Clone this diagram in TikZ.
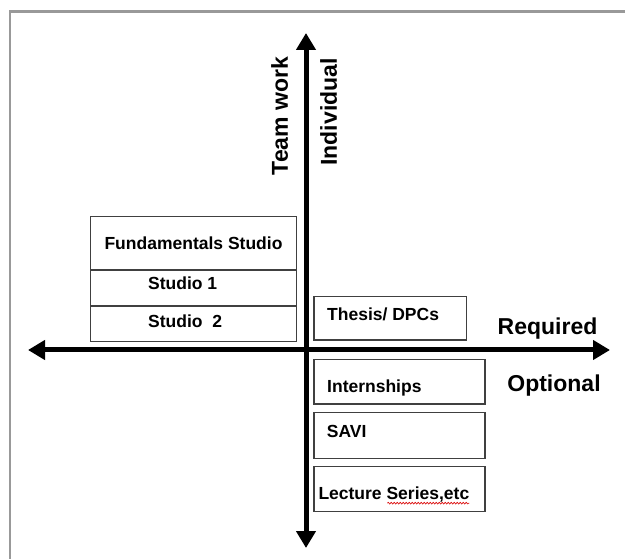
\documentclass[tikz,border=0pt]{standalone}
\usepackage{fontspec}
\setmainfont{Liberation Sans}
\usepackage{tikz}
\usetikzlibrary{arrows.meta,positioning,decorations.pathmorphing}

\begin{document}
\begin{tikzpicture}[
  x=1pt, y=-1pt,
  box/.style={draw=black!75, line width=1.2pt, inner sep=0pt},
  lbl/.style={font=\fontsize{17.5}{20}\selectfont\bfseries, inner sep=0pt,
              text height=12.5pt, text depth=0pt},
  axlbl/.style={font=\fontsize{23}{27}\selectfont\bfseries, inner sep=0pt,
                text height=16.5pt, text depth=0pt},
  axis/.style={line width=5pt, -{Triangle[length=17pt,width=19pt]}},
  squiggle/.style={red!85!black, line width=0.6pt,
                   decorate, decoration={snake, amplitude=0.9pt, segment length=3pt}}
]
\useasboundingbox (0,0) rectangle (625,559);
% frame of the slide
\draw[black!40, line width=2.5pt] (10,559) -- (10,11.5) -- (625,11.5);

% axes
\coordinate (origin) at (306,350);
\coordinate (up) at (306,33);
\coordinate (down) at (306,548);
\coordinate (west) at (28,350);
\coordinate (east) at (610,350);
\draw[axis] (origin) -- (up);
\draw[axis] (origin) -- (down);
\draw[axis] (origin) -- (west);
\draw[axis] (origin) -- (east);

\node[axlbl, rotate=90] (team) at (279.5,116) {Team work};
\node[axlbl, rotate=90] (indiv) at (328.5,112) {Individual};
\node[axlbl] (req) at (547.5,326) {Required};
\node[axlbl] (opt) at (554,383.3) {Optional};

% team work, required
\node[box, minimum width=206pt, minimum height=53.3pt] (fund) at (193.7,243.3) {};
\node[box, minimum width=206pt, minimum height=36pt] (stu1) at (193.7,288) {};
\node[box, minimum width=206pt, minimum height=35.7pt] (stu2) at (193.7,323.85) {};
\node[lbl] (fundT) at (193.5,243) {Fundamentals Studio};
\node[lbl, anchor=west] (stu1T) at (148,283) {Studio 1};
\node[lbl, anchor=west] (stu2T) at (148,321.7) {Studio\ \ 2};

% individual, required
\node[box, minimum width=152.7pt, minimum height=43.3pt] (thesis) at (390.3,318.3) {};
\node[lbl, anchor=west] (thesisT) at (327,314.5) {Thesis/ DPCs};

% individual, optional
\node[box, minimum width=171pt, minimum height=44.7pt] (intern) at (399.5,381.7) {};
\node[box, minimum width=171pt, minimum height=45.7pt] (savi) at (399.5,435.5) {};
\node[box, minimum width=171pt, minimum height=45pt] (lect) at (399.5,489.2) {};
\node[lbl, anchor=west] (internT) at (327,386) {Internships};
\node[lbl, anchor=west] (saviT) at (326.7,431) {SAVI};
\node[lbl, anchor=west] (lectT) at (318.3,493.7) {Lecture Series,etc};
\draw[squiggle] ([xshift=69pt,yshift=-3pt]lectT.south west) -- ([yshift=-3pt]lectT.south east);
\end{tikzpicture}
\end{document}
